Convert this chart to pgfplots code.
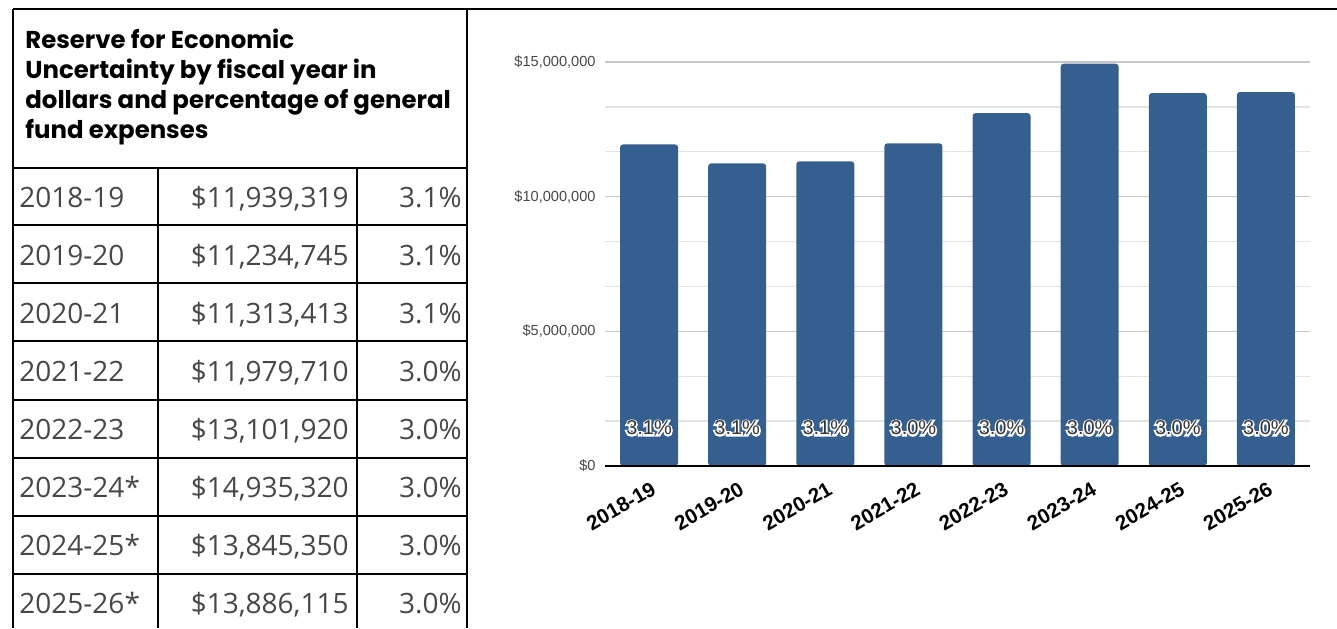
\documentclass[border=0pt]{standalone}
\usepackage{pgfplots}
\pgfplotsset{compat=1.18}
\usepackage{fontspec}
\setmainfont{Poppins}
\newfontfamily\tabfont{Open Sans}
\newfontfamily\arial{Liberation Sans}
\newfontfamily\arialhalo[FakeBold=16]{Liberation Sans}
\definecolor{barblue}{HTML}{355F8E}
\definecolor{tabtext}{HTML}{474747}
\definecolor{baseline}{HTML}{5A1E1E}
\newcommand{\halo}[1]{\tikz[baseline=(t.base)]{\node[text=white,inner sep=0pt,font=\arialhalo\fontsize{10}{12}\selectfont] {#1};\node[inner sep=0pt,text=black!80](t){#1};}}
\pgfplotstableread{
x y
0 11939319
1 11234745
2 11313413
3 11979710
4 13101920
5 14935320
6 13845350
7 13886115
}\bardata
\pgfplotstableread{
x y p
0 1410000 3.1
1 1410000 3.1
2 1410000 3.1
3 1410000 3.0
4 1410000 3.0
5 1410000 3.0
6 1410000 3.0
7 1410000 3.0
}\labdata
\begin{document}
\begin{tikzpicture}
\begin{scope}[x=0.5pt,y=-0.5pt,shift={(0,314pt)}]
% table
\node[anchor=north west, align=left, inner sep=0pt, font=\bfseries\fontsize{12.2}{15}\selectfont] at (25,29)
 {Reserve for Economic\\Uncertainty by fiscal year in\\dollars and percentage of general\\fund expenses};
\foreach \yr/\val/\pc [count=\i from 0] in {2018-19/{\$11,939,319}/3.1\%, 2019-20/{\$11,234,745}/3.1\%, 2020-21/{\$11,313,413}/3.1\%, 2021-22/{\$11,979,710}/3.0\%, 2022-23/{\$13,101,920}/3.0\%, 2023-24*/{\$14,935,320}/3.0\%, 2024-25*/{\$13,845,350}/3.0\%, 2025-26*/{\$13,886,115}/3.0\%}{
  \pgfmathsetmacro{\by}{207+58*\i}
  \node[anchor=base west, inner sep=0pt, text=tabtext, font=\tabfont\fontsize{14}{16}\selectfont] at (19,\by) {\yr};
  \node[anchor=base east, inner sep=0pt, text=tabtext, font=\tabfont\fontsize{14}{16}\selectfont] at (349,\by) {\val};
  \node[anchor=base east, inner sep=0pt, text=tabtext, font=\tabfont\fontsize{14}{16}\selectfont] at (462,\by) {\pc};
}
\begin{scope}[line width=1.2pt]
\draw (13,9) -- (1337,9);
\draw (13,9) -- (13,628);
\draw (467,9) -- (467,628);
\foreach \ry in {168,225,283,341,400,458,516,574}{\draw (13,\ry) -- (467,\ry);}
\draw (158,168) -- (158,628);
\draw (357,168) -- (357,628);
\end{scope}
\end{scope}
\begin{axis}[
  at={(302.5pt,81pt)}, anchor=south west,
  scale only axis, width=352.5pt, height=202pt,
  xmin=-0.5, xmax=7.5, ymin=0, ymax=15000000,
  axis line style={draw=none},
  major tick length=0pt, minor tick length=0pt,
  xtick={0,...,7},
  xticklabels={2018-19,2019-20,2020-21,2021-22,2022-23,2023-24,2024-25,2025-26},
  ytick={0,5000000,10000000,15000000},
  yticklabels={\$0,{\$5,000,000},{\$10,000,000},{\$15,000,000}},
  minor ytick={1666667,3333333,6666667,8333333,11666667,13333333},
  ymajorgrids, yminorgrids,
  major grid style={draw=black!22, line width=0.7pt},
  minor grid style={draw=black!11, line width=0.7pt},
  yticklabel style={font=\arial\fontsize{7.3}{8}\selectfont, text=black!72, inner sep=0pt, xshift=-4.5pt},
  xticklabel style={font=\arial\bfseries\fontsize{10.3}{12}\selectfont, text=black, inner sep=0pt, anchor=east, xshift=2.5pt, yshift=-10.5pt, rotate=30},
  scaled y ticks=false,
  clip=false,
]
\addplot[ybar, bar width=29pt, fill=barblue, draw=none, rounded corners=1.5pt] table[x=x,y=y]{\bardata};
\addplot[only marks, mark=none, point meta=explicit symbolic,
  nodes near coords={\halo{\pgfplotspointmeta\%}},
  nodes near coords style={anchor=center, font=\arial\fontsize{10}{12}\selectfont, inner sep=0pt}]
  table[x=x,y=y,meta=p]{\labdata};
\draw[line width=1.2pt, baseline] (axis cs:-0.5,0) -- (axis cs:7.5,0);
\end{axis}
\pgfresetboundingbox
\path (0,0) rectangle (668.5pt,314pt);
\end{tikzpicture}
\end{document}
